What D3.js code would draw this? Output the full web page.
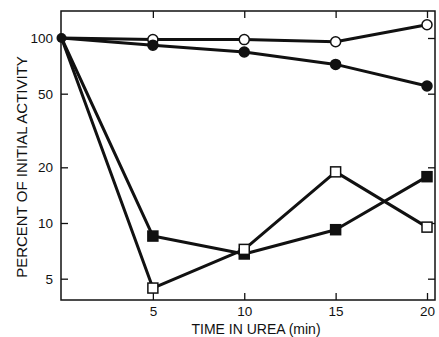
<!DOCTYPE html>
<html><head><meta charset="utf-8">
<script src="https://cdn.jsdelivr.net/npm/d3@7"></script>
<style>body{margin:0;background:#fff}svg{display:block}text{font-family:"Liberation Sans",Arial,sans-serif;fill:#111}</style>
</head><body><svg id="c" width="439" height="337"></svg>
<script>
const times = [0, 5, 10, 15, 20];
const openCircles = [100, 98, 98, 95.5, 118];
const filledCircles = [100, 91.5, 84, 72, 55];
const filledSquares = [100, 8.5, 6.8, 9.2, 17.8];
const openSquares = [100, 4.45, 7.2, 18.9, 9.5];
const xTicks = [5, 10, 15, 20];
const yTicks = [5, 10, 20, 50, 100];

const series = [
  {vals: openCircles, shape: "circle", fill: "#fff"},
  {vals: filledCircles, shape: "circle", fill: "#111"},
  {vals: filledSquares, shape: "square", fill: "#111"},
  {vals: openSquares, shape: "square", fill: "#fff"}
];

const L = 61, R = 435, T = 11, B = 300;
const svg = d3.select("#c");
const x = d3.scaleLinear().domain([0, 20]).range([61.5, 427]);
const y = d3.scaleLog().domain([10, 100]).range([223, 38]);

// frame
svg.append("rect").attr("x", L).attr("y", T).attr("width", R - L).attr("height", B - T)
  .attr("fill", "none").attr("stroke", "#111").attr("stroke-width", 1.5);

// axes
const ax = svg.append("g").attr("transform", `translate(0,${B})`)
  .call(d3.axisBottom(x).tickValues(xTicks).tickSize(-7).tickPadding(6).tickFormat(d3.format("d")));
const axT = svg.append("g").attr("transform", `translate(0,${T})`)
  .call(d3.axisTop(x).tickValues(xTicks).tickSize(-7).tickFormat(""));
const ay = svg.append("g").attr("transform", `translate(${L},0)`)
  .call(d3.axisLeft(y).tickValues(yTicks).tickSize(-7).tickPadding(8).tickFormat(d3.format("d")));
const ayR = svg.append("g").attr("transform", `translate(${R},0)`)
  .call(d3.axisRight(y).tickValues(yTicks).tickSize(-7).tickFormat(""));
[ax, axT, ay, ayR].forEach(g => {
  g.select(".domain").remove();
  g.selectAll(".tick line").attr("stroke", "#111").attr("stroke-width", 1.3);
  g.selectAll("text").attr("font-size", 13.5).style("fill", "#111");
});

// lines
const line = d3.line().x((d, i) => x(times[i])).y(d => y(d));
series.forEach(s => {
  svg.append("path").datum(s.vals).attr("d", line)
    .attr("fill", "none").attr("stroke", "#111").attr("stroke-width", 3).attr("stroke-linejoin", "round");
});
// markers
series.forEach(s => {
  s.vals.forEach((v, i) => {
    if (i === 0) return;
    if (s.shape === "circle") {
      svg.append("circle").attr("cx", x(times[i])).attr("cy", y(v)).attr("r", 5)
        .attr("fill", s.fill).attr("stroke", "#111").attr("stroke-width", 1.5);
    } else {
      svg.append("rect").attr("x", x(times[i]) - 5).attr("y", y(v) - 5).attr("width", 10).attr("height", 10)
        .attr("fill", s.fill).attr("stroke", "#111").attr("stroke-width", 1.5);
    }
  });
});
svg.append("circle").attr("cx", x(0)).attr("cy", y(100)).attr("r", 5).attr("fill", "#111");

// titles
svg.append("text").attr("x", 256).attr("y", 334).attr("text-anchor", "middle").attr("font-size", 14)
  .text("TIME IN UREA (min)");
svg.append("text").attr("transform", "translate(27,167) rotate(-90)").attr("text-anchor", "middle")
  .attr("font-size", 15).text("PERCENT OF INITIAL ACTIVITY");
</script></body></html>
